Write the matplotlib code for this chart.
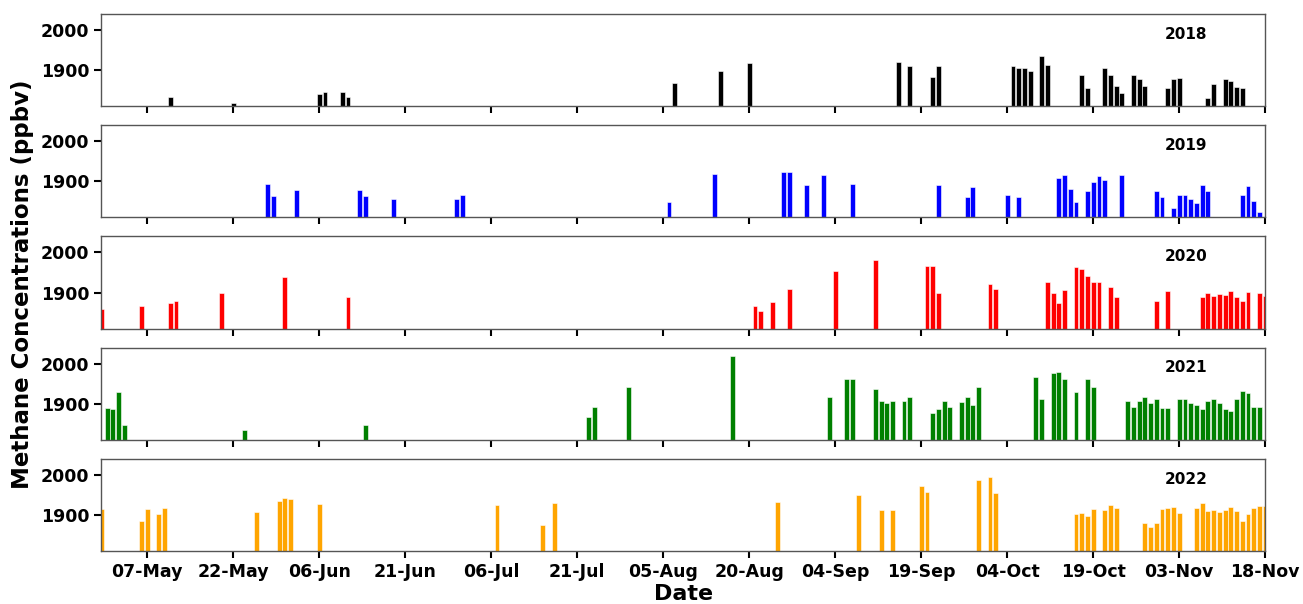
import matplotlib
matplotlib.use("Agg")
import matplotlib.pyplot as plt
import matplotlib.dates as mdates
import pandas as pd

# Methane concentrations (ppbv) per sampling day, one panel per year
years = ['2018', '2019', '2020', '2021', '2022']
colors = ['black', 'blue', 'red', 'green', 'orange']

days_2018 = ['05-11', '05-22', '06-06', '06-07', '06-10', '06-11', '08-07', '08-15', '08-20',
             '09-15', '09-17', '09-21', '09-22', '10-05', '10-06', '10-07', '10-08', '10-10',
             '10-11', '10-17', '10-18', '10-21', '10-22', '10-23', '10-24', '10-26', '10-27',
             '10-28', '11-01', '11-02', '11-03', '11-08', '11-09', '11-11', '11-12', '11-13',
             '11-14']
conc_2018 = [1832, 1818, 1840, 1845, 1845, 1832, 1868, 1897, 1917,
             1921, 1911, 1883, 1910, 1911, 1906, 1906, 1897, 1935,
             1913, 1888, 1855, 1904, 1888, 1861, 1843, 1888, 1879,
             1861, 1855, 1878, 1881, 1830, 1865, 1879, 1874, 1857,
             1855]

days_2019 = ['05-28', '05-29', '06-02', '06-13', '06-14', '06-19', '06-30', '07-01', '08-06',
             '08-14', '08-26', '08-27', '08-30', '09-02', '09-07', '09-22', '09-27', '09-28',
             '10-04', '10-06', '10-13', '10-14', '10-15', '10-16', '10-18', '10-19', '10-20',
             '10-21', '10-24', '10-30', '10-31', '11-02', '11-03', '11-04', '11-05', '11-06',
             '11-07', '11-08', '11-14', '11-15', '11-16', '11-17']
conc_2019 = [1893, 1864, 1878, 1878, 1864, 1855, 1855, 1866, 1848,
             1918, 1923, 1923, 1890, 1916, 1894, 1890, 1862, 1886,
             1866, 1862, 1908, 1917, 1882, 1848, 1875, 1898, 1914,
             1903, 1917, 1875, 1862, 1834, 1866, 1866, 1857, 1847,
             1892, 1875, 1866, 1889, 1850, 1823]

days_2020 = ['04-29', '05-06', '05-11', '05-12', '05-20', '05-31', '06-11', '08-21', '08-22',
             '08-24', '08-27', '09-04', '09-11', '09-20', '09-21', '09-22', '10-01', '10-02',
             '10-11', '10-12', '10-13', '10-14', '10-16', '10-17', '10-18', '10-19', '10-20',
             '10-22', '10-23', '10-30', '11-01', '11-07', '11-08', '11-09', '11-10', '11-11',
             '11-12', '11-13', '11-14', '11-15', '11-17', '11-18']
conc_2020 = [1860, 1867, 1874, 1880, 1898, 1939, 1888, 1867, 1855,
             1876, 1909, 1954, 1981, 1967, 1967, 1898, 1922, 1909,
             1927, 1898, 1874, 1907, 1963, 1959, 1941, 1927, 1926,
             1914, 1889, 1880, 1903, 1889, 1898, 1892, 1896, 1894,
             1904, 1889, 1878, 1901, 1898, 1892]

days_2021 = ['04-30', '05-01', '05-02', '05-03', '05-24', '06-14', '07-23', '07-24', '07-30',
             '08-17', '09-03', '09-06', '09-07', '09-11', '09-12', '09-13', '09-14', '09-16',
             '09-17', '09-21', '09-22', '09-23', '09-24', '09-26', '09-27', '09-28', '09-29',
             '10-09', '10-10', '10-12', '10-13', '10-14', '10-16', '10-18', '10-19', '10-25',
             '10-26', '10-27', '10-28', '10-29', '10-30', '10-31', '11-01', '11-03', '11-04',
             '11-05', '11-06', '11-07', '11-08', '11-09', '11-10', '11-11', '11-12', '11-13',
             '11-14', '11-15', '11-16', '11-17']
conc_2021 = [1890, 1887, 1929, 1848, 1835, 1848, 1868, 1893, 1941,
             2018, 1918, 1963, 1963, 1936, 1908, 1902, 1906, 1906,
             1916, 1877, 1888, 1907, 1891, 1904, 1916, 1898, 1941,
             1966, 1913, 1977, 1980, 1961, 1929, 1961, 1943, 1908,
             1892, 1908, 1918, 1903, 1912, 1890, 1890, 1911, 1911,
             1903, 1898, 1886, 1908, 1913, 1902, 1886, 1882, 1912,
             1931, 1926, 1892, 1891]

days_2022 = ['04-29', '05-06', '05-07', '05-09', '05-10', '05-26', '05-30', '05-31', '06-01',
             '06-06', '07-07', '07-15', '07-17', '08-25', '09-08', '09-12', '09-14', '09-19',
             '09-20', '09-29', '10-01', '10-02', '10-16', '10-17', '10-18', '10-19', '10-21',
             '10-22', '10-23', '10-28', '10-29', '10-30', '10-31', '11-01', '11-02', '11-03',
             '11-06', '11-07', '11-08', '11-09', '11-10', '11-11', '11-12', '11-13', '11-14',
             '11-15', '11-16', '11-17', '11-18']
conc_2022 = [1914, 1885, 1916, 1902, 1917, 1908, 1935, 1943, 1939,
             1928, 1924, 1876, 1931, 1933, 1949, 1913, 1913, 1972,
             1958, 1987, 1996, 1955, 1903, 1904, 1898, 1914, 1913,
             1926, 1917, 1879, 1870, 1879, 1914, 1917, 1921, 1905,
             1917, 1930, 1910, 1913, 1908, 1913, 1920, 1909, 1885,
             1903, 1918, 1923, 1923]

all_days = [days_2018, days_2019, days_2020, days_2021, days_2022]
all_conc = [conc_2018, conc_2019, conc_2020, conc_2021, conc_2022]

# all years drawn on one common calendar
base_year = '2021-'
tick_dates = pd.date_range(base_year + '05-07', base_year + '11-18', freq='15D')

fig, axes = plt.subplots(5, 1, figsize=(13.03, 6.04), dpi=100, sharex=True)
fig.subplots_adjust(left=0.0775, right=0.971, top=0.9768, bottom=0.0877, hspace=0.207)

for ax, year, color, days, conc in zip(axes, years, colors, all_days, all_conc):
    dates = pd.to_datetime([base_year + d for d in days])
    ax.bar(dates, conc, width=0.85, color=color, edgecolor='white', linewidth=0.4)
    ax.set_ylim(1810, 2040)
    ax.set_yticks([1900, 2000])
    ax.text(0.932, 0.78, year, transform=ax.transAxes, ha='center', va='center',
            fontsize=11, fontweight='bold')
    for s in ax.spines.values():
        s.set_color('#555555')
        s.set_linewidth(1.0)
    ax.tick_params(axis='both', direction='out', length=5, width=1.5, color='black',
                   labelsize=12.5)
    for lab in ax.get_yticklabels():
        lab.set_fontweight('bold')

axes[-1].set_xlim(pd.Timestamp(base_year + '04-28 22:00'), pd.Timestamp(base_year + '11-18'))
axes[-1].set_xticks(tick_dates)
axes[-1].xaxis.set_major_formatter(mdates.DateFormatter('%d-%b'))
for lab in axes[-1].get_xticklabels():
    lab.set_fontweight('bold')
axes[-1].set_xlabel('Date', fontsize=16, fontweight='bold', labelpad=2)

fig.text(0.017, 0.53, 'Methane Concentrations (ppbv)', rotation=90, ha='center', va='center',
         fontsize=16.5, fontweight='bold')

plt.savefig('out.png', dpi=100)
